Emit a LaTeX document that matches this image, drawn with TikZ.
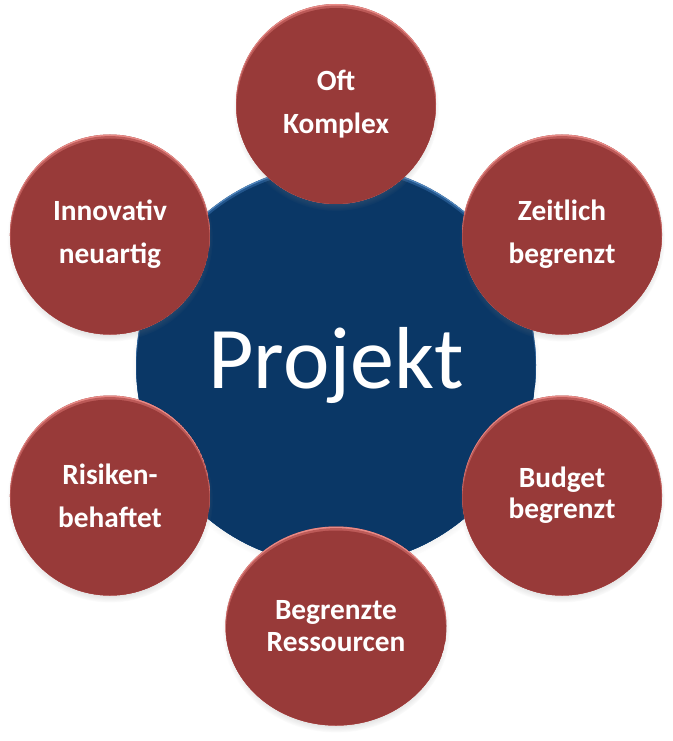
\documentclass[tikz,border=0pt]{standalone}
\usepackage{fontspec}
\setmainfont{Carlito}
\usetikzlibrary{shadows,calc,shapes.geometric,trees}

\definecolor{bubblered}{HTML}{983A39}
\definecolor{bubblemid}{HTML}{BC5A58}
\definecolor{bubblelight}{HTML}{E88A86}
\definecolor{hubblue}{HTML}{0A3766}
\definecolor{hubmid}{HTML}{22558C}
\definecolor{hublight}{HTML}{5287BE}

\tikzset{
  bevel/.style n args={3}{path picture={
    \fill[#1] let \p1=(path picture bounding box.north east),
                  \p2=(path picture bounding box.center) in
      (\x2,\y2) ellipse [x radius=\x1-\x2, y radius=\y1-\y2];
    \fill[#2] let \p1=(path picture bounding box.north east),
                  \p2=(path picture bounding box.center) in
      (\x2,\y2-1.2pt) ellipse [x radius=\x1-\x2, y radius=\y1-\y2];
    \fill[#3] let \p1=(path picture bounding box.north east),
                  \p2=(path picture bounding box.center) in
      (\x2,\y2-3pt) ellipse [x radius=\x1-\x2-.4pt, y radius=\y1-\y2];}},
  hub/.style={circle, minimum size=300pt, inner sep=0pt, fill=hubblue,
    text=white, font=\fontsize{66}{72}\selectfont,
    circular drop shadow={shadow xshift=0pt, shadow yshift=-2pt, shadow scale=1.02, opacity=.4},
    bevel={hublight}{hubmid}{hubblue}},
  bubble/.style={circle, minimum size=150pt, inner sep=0pt, fill=bubblered,
    text=white, font=\fontsize{22}{23.5}\selectfont\bfseries, align=center,
    circular drop shadow={shadow xshift=0pt, shadow yshift=-3pt, shadow scale=1.03, opacity=.45},
    bevel={bubblelight}{bubblemid}{bubblered}},
  widebubble/.style={bubble, ellipse, minimum width=165.75pt, minimum height=149.25pt}
}

\begin{document}
\begin{tikzpicture}[x=0.75pt, y=-0.75pt,
  edge from parent/.style={draw=none},
  level 1/.style={level distance=195.75pt, sibling angle=60, clockwise from=90}]

\useasboundingbox (0,0) rectangle (672,741);

% Root node
\node[hub] (projekt) at (336,365) {Projekt}
% First level
  child {node[bubble] (oft) {Oft\\[9pt]Komplex}}
  child {node[bubble] (zeitlich) {Zeitlich\\[9pt]begrenzt}}
  child {node[bubble] (budget) {Budget\\begrenzt}}
  child {node[widebubble] (ressourcen) {Begrenzte\\Ressourcen}}
  child {node[bubble] (risiken) {Risiken-\\[9pt]behaftet}}
  child {node[bubble] (innovativ) {Innovativ\\[9pt]neuartig}};

\end{tikzpicture}
\end{document}
